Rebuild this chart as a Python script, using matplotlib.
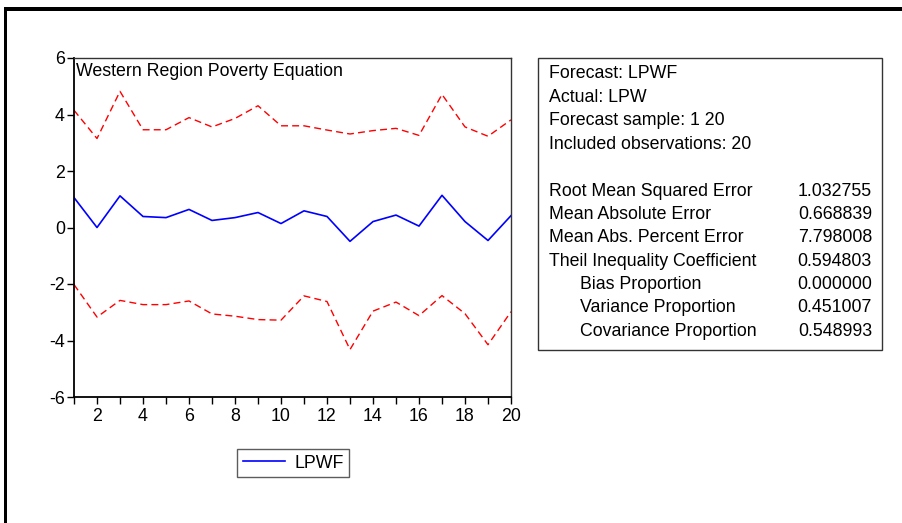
import numpy as np
import matplotlib
matplotlib.use('Agg')
import matplotlib.pyplot as plt
from matplotlib.patches import Rectangle

plt.rcParams['font.family'] = ['Liberation Sans', 'DejaVu Sans']
plt.rcParams['axes.unicode_minus'] = False

#%% data
obs = np.arange(1, 21)
lpwf = [1.06, 0.00, 1.12, 0.39, 0.35, 0.64, 0.25, 0.35, 0.53, 0.14,
        0.59, 0.39, -0.49, 0.21, 0.44, 0.05, 1.14, 0.21, -0.46, 0.42]
upper = [4.15, 3.15, 4.82, 3.46, 3.46, 3.89, 3.56, 3.86, 4.31, 3.60,
         3.60, 3.45, 3.31, 3.43, 3.51, 3.26, 4.71, 3.56, 3.23, 3.81]
lower = [-2.02, -3.17, -2.58, -2.73, -2.73, -2.60, -3.06, -3.14, -3.26, -3.28,
         -2.42, -2.62, -4.32, -2.96, -2.64, -3.12, -2.41, -3.05, -4.15, -2.98]

header = ['Forecast: LPWF', 'Actual: LPW', 'Forecast sample: 1 20',
          'Included observations: 20']
stat_names = ['Root Mean Squared Error', 'Mean Absolute Error',
              'Mean Abs. Percent Error', 'Theil Inequality Coefficient',
              'Bias Proportion', 'Variance Proportion', 'Covariance Proportion']
stat_values = ['1.032755', '0.668839', '7.798008', '0.594803',
               '0.000000', '0.451007', '0.548993']
indented = [False, False, False, False, True, True, True]

fs = 12.8

#%% figure
W, H = 903, 523
fig = plt.figure(figsize=(W/100, H/100), dpi=100)

ax = fig.add_axes([74/W, 1-397/H, (511-74)/W, (397-58)/H])
ax.plot(obs, lpwf, color='#0000ff', lw=1.2, label='LPWF')
ax.plot(obs, upper, color='#ff0000', lw=1.0, ls=(0, (5, 3)))
ax.plot(obs, lower, color='#ff0000', lw=1.0, ls=(0, (5, 3)))
ax.set_xlim(1, 20)
ax.set_ylim(-6, 6)
ax.set_yticks([-6, -4, -2, 0, 2, 4, 6])
ax.set_xticks(obs)
ax.set_xticklabels([str(v) if v % 2 == 0 else '' for v in obs])
ax.tick_params(direction='out', length=5, width=1, labelsize=fs, pad=1.5)
ax.tick_params(axis='x', pad=3)
for s in ['left', 'bottom']:
    ax.spines[s].set_linewidth(1.3)
for s in ['top', 'right']:
    ax.spines[s].set_linewidth(1.0)
    ax.spines[s].set_color('#333333')
ax.text(0.004, 0.985, 'Western Region Poverty Equation', transform=ax.transAxes,
        ha='left', va='top', fontsize=fs)
ax.legend(loc='center', bbox_to_anchor=((293-74)/(511-74), -(463-397)/(397-58)),
          fontsize=fs, frameon=True, fancybox=False, edgecolor='#333333',
          handlelength=2.4, handletextpad=0.5, borderpad=0.3)
ax.get_legend().get_frame().set_linewidth(1.0)

# statistics box
fig.add_artist(Rectangle((538/W, 1-350/H), (882-538)/W, (350-58)/H,
                         transform=fig.transFigure, fill=False,
                         edgecolor='#333333', lw=1.0))
y0 = 74
dy = 23.4
for i, t in enumerate(header):
    fig.text(549/W, 1-(y0+i*dy)/H, t, ha='left', va='center', fontsize=fs)
for i, (n, v) in enumerate(zip(stat_names, stat_values)):
    yy = 1-(y0+(i+5)*dy)/H
    fig.text((580 if indented[i] else 549)/W, yy, n, ha='left', va='center', fontsize=fs)
    fig.text(872/W, yy, v, ha='right', va='center', fontsize=fs)

# heavy window borders
fig.add_artist(Rectangle((4/W, 1-10.5/H), (W-4)/W, 3.5/H, transform=fig.transFigure,
                         color='black', lw=0))
fig.add_artist(Rectangle((4/W, 0), 3.5/W, 1-7/H, transform=fig.transFigure,
                         color='black', lw=0))

fig.savefig('out.png', dpi=100)
